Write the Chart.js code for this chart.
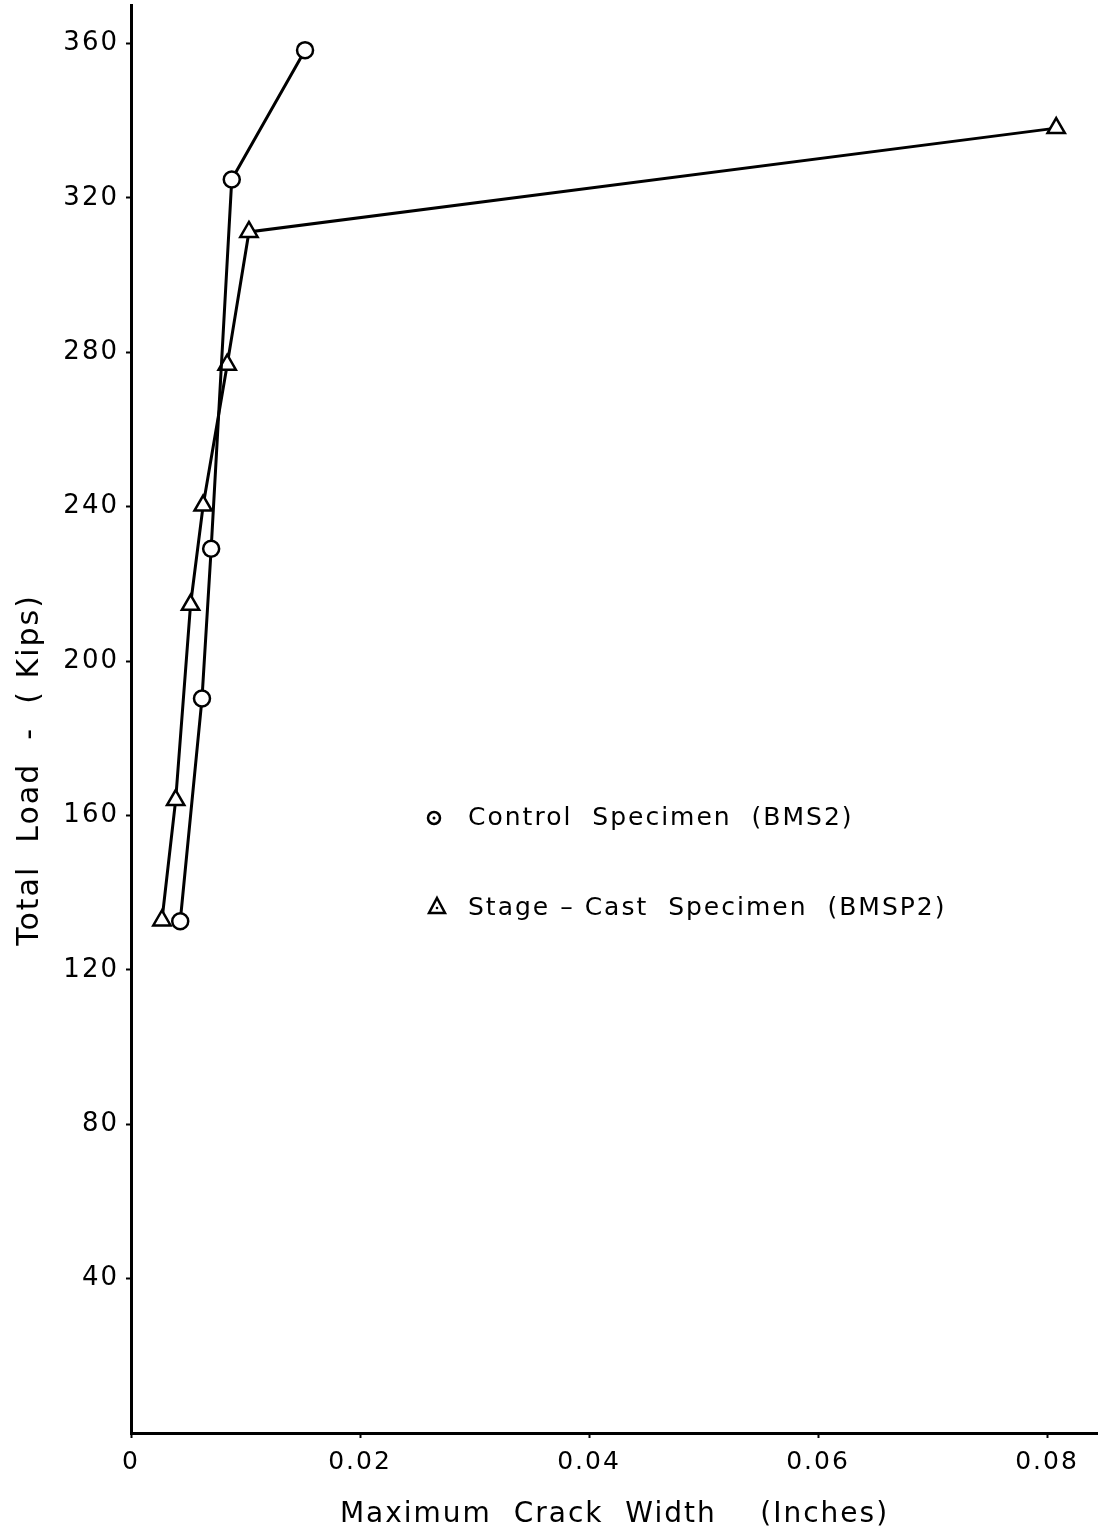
<!DOCTYPE html>
<html>
<head>
<meta charset="utf-8">
<script src="https://cdn.jsdelivr.net/npm/chart.js@4.4.1/dist/chart.umd.min.js"></script>
<style>
  html, body { margin: 0; padding: 0; background: #fff; }
  #wrap { width: 1098px; height: 1536px; }
</style>
</head>
<body>
<div id="wrap"><canvas id="crackChart"></canvas></div>
<script>
// values
var controlWidth = [0.0043, 0.0062, 0.0070, 0.0088, 0.0152];
var controlLoad = [132.6, 190.3, 229.1, 324.8, 358.3];

var stageWidth = [0.0027, 0.0039, 0.0052, 0.0063, 0.0084, 0.0103, 0.0808];
var stageLoad = [132.8, 164.0, 214.6, 240.3, 276.8, 311.2, 338.1];

var xTicks = [0, 0.02, 0.04, 0.06, 0.08];
var yTicks = [40, 80, 120, 160, 200, 240, 280, 320, 360];

var legendLabels = ["Control  Specimen  (BMS2)", "Stage – Cast  Specimen  (BMSP2)"];
var yTitle = "Total  Load  -  ( Kips)";

function toPoints(xs, ys) {
  return xs.map(function (x, i) {
    return { x: x, y: ys[i] };
  });
}

var fontFamily = "'DejaVu Sans', 'Liberation Sans', sans-serif";

// letter spacing for the stencil-like lettering
var spacingPlugin = {
  id: "spacing",
  beforeDraw: function (chart) {
    chart.ctx.letterSpacing = "2px";
  },
};

// legend inside the plot area + the y title (sits a bit below centre in the original)
var extraText = {
  id: "extraText",
  afterDraw: function (chart) {
    var ctx = chart.ctx;
    ctx.save();
    ctx.letterSpacing = "2px";
    ctx.fillStyle = "#000";
    ctx.strokeStyle = "#000";
    ctx.lineWidth = 2.5;
    ctx.font = "25px " + fontFamily;
    ctx.textBaseline = "middle";
    ctx.textAlign = "left";

    // circle marker
    ctx.beginPath();
    ctx.arc(434, 818, 6, 0, Math.PI * 2);
    ctx.stroke();
    ctx.beginPath();
    ctx.arc(434, 818, 1.5, 0, Math.PI * 2);
    ctx.fill();
    ctx.fillText(legendLabels[0], 468, 818);

    // triangle marker
    ctx.beginPath();
    ctx.moveTo(437, 898);
    ctx.lineTo(445, 913);
    ctx.lineTo(429, 913);
    ctx.closePath();
    ctx.stroke();
    ctx.beginPath();
    ctx.arc(437, 908, 1.3, 0, Math.PI * 2);
    ctx.fill();
    ctx.fillText(legendLabels[1], 468, 908);

    // y axis title
    ctx.translate(30, 770);
    ctx.rotate(-Math.PI / 2);
    ctx.textAlign = "center";
    ctx.font = "30px " + fontFamily;
    ctx.fillText(yTitle, 0, 0);
    ctx.restore();
  },
};

function noPadding(scale) {
  scale.paddingTop = 0;
  scale.paddingBottom = 0;
  scale.paddingLeft = 0;
  scale.paddingRight = 0;
}

Chart.defaults.font.family = fontFamily;
Chart.defaults.color = "#000";

new Chart(document.getElementById("crackChart"), {
  type: "scatter",
  data: {
    datasets: [
      {
        label: "Control Specimen (BMS2)",
        data: toPoints(controlWidth, controlLoad),
        showLine: true,
        borderColor: "#000",
        borderWidth: 3,
        pointStyle: "circle",
        pointRadius: 8,
        pointBorderWidth: 2.5,
        pointBackgroundColor: "#fff",
        pointBorderColor: "#000",
      },
      {
        label: "Stage-Cast Specimen (BMSP2)",
        data: toPoints(stageWidth, stageLoad),
        showLine: true,
        borderColor: "#000",
        borderWidth: 3,
        pointStyle: "triangle",
        pointRadius: 10,
        pointBorderWidth: 2.5,
        pointBackgroundColor: "#fff",
        pointBorderColor: "#000",
      },
    ],
  },
  options: {
    responsive: true,
    maintainAspectRatio: false,
    animation: false,
    layout: { autoPadding: false, padding: { top: 5, right: 0, left: 0, bottom: 0 } },
    plugins: {
      legend: { display: false },
      tooltip: { enabled: false },
    },
    scales: {
      x: {
        type: "linear",
        min: 0,
        max: 0.08445,
        afterFit: function (scale) {
          scale.height = 103;
          noPadding(scale);
        },
        afterBuildTicks: function (scale) {
          scale.ticks = xTicks.map(function (v) {
            return { value: v };
          });
        },
        ticks: {
          font: { size: 25 },
          padding: 9,
          maxRotation: 0,
          callback: function (v) {
            return v === 0 ? "0" : v.toFixed(2);
          },
        },
        grid: {
          drawOnChartArea: false,
          drawTicks: true,
          tickLength: 5,
          tickWidth: 2,
          tickColor: "#000",
        },
        border: { display: true, color: "#000", width: 3 },
        title: {
          display: true,
          text: "Maximum  Crack  Width    (Inches)",
          font: { size: 28 },
          padding: { top: 14, bottom: 4 },
        },
      },
      y: {
        type: "linear",
        min: 0,
        max: 370,
        afterFit: function (scale) {
          scale.width = 131;
          noPadding(scale);
        },
        afterBuildTicks: function (scale) {
          scale.ticks = yTicks.map(function (v) {
            return { value: v };
          });
        },
        ticks: {
          font: { size: 26 },
          padding: 7,
        },
        grid: {
          drawOnChartArea: false,
          drawTicks: true,
          tickLength: 5,
          tickWidth: 2,
          tickColor: "#000",
        },
        border: { display: true, color: "#000", width: 3 },
        title: { display: false },
      },
    },
  },
  plugins: [spacingPlugin, extraText],
});
</script>
</body>
</html>
